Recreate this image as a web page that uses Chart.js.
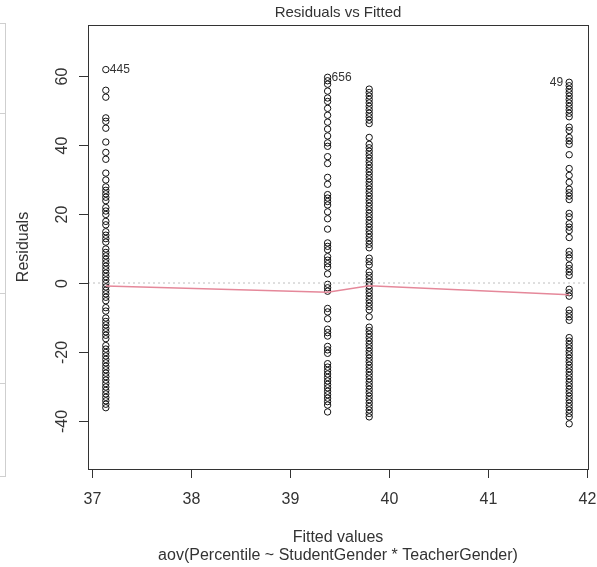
<!DOCTYPE html>
<html>
<head>
<meta charset="utf-8">
<script src="https://cdn.jsdelivr.net/npm/chart.js@4/dist/chart.umd.min.js"></script>
<style>
  body { margin: 0; background: #fff; }
  canvas { display: block; }
</style>
</head>
<body>
<canvas id="chart" width="597" height="567"></canvas>
<script>
// fitted value of each group (x position of each column of residuals)
const fitted = [37.14, 39.38, 39.80, 41.82];

// residuals, one list per group
const resid1 = [61.86, 55.86, 53.86, 47.86, 46.86, 44.86, 40.86, 37.86, 35.86, 31.86, 29.86, 27.86, 26.86,
  25.86, 24.86, 23.86, 21.86, 20.86, 19.86, 17.86, 16.86, 14.86, 13.86, 12.86, 11.86, 9.86, 8.86, 7.86,
  6.86, 5.86, 4.86, 3.86, 2.86, 1.86, 0.86, -0.14, -1.14, -2.14, -3.14, -4.14, -5.14, -7.14, -8.14,
  -10.14, -11.14, -12.14, -13.14, -14.14, -15.14, -16.14, -18.14, -19.14, -20.14, -21.14, -22.14,
  -23.14, -24.14, -25.14, -26.14, -27.14, -28.14, -29.14, -30.14, -31.14, -32.14, -33.14, -34.14,
  -35.14, -36.14];
const resid2 = [59.62, 58.62, 57.62, 55.62, 53.62, 52.62, 50.62, 48.62, 46.62, 44.62, 42.62, 40.62,
  39.62, 36.62, 34.62, 30.62, 28.62, 25.62, 24.62, 23.62, 22.62, 20.62, 18.62, 15.62, 11.62, 10.62,
  9.62, 7.62, 6.62, 5.62, 4.62, 2.62, -0.38, -1.38, -2.38, -7.38, -8.38, -10.38, -13.38, -14.38,
  -15.38, -18.38, -19.38, -20.38, -23.38, -24.38, -25.38, -26.38, -27.38, -28.38, -29.38, -30.38,
  -31.38, -32.38, -33.38, -34.38, -35.38, -37.38];
const resid3 = [56.2, 55.2, 54.2, 53.2, 52.2, 51.2, 50.2, 49.2, 48.2, 47.2, 46.2, 42.2, 40.2, 39.2,
  38.2, 37.2, 36.2, 35.2, 34.2, 33.2, 32.2, 31.2, 30.2, 29.2, 28.2, 27.2, 26.2, 25.2, 24.2, 23.2, 22.2,
  21.2, 20.2, 19.2, 18.2, 17.2, 16.2, 15.2, 14.2, 13.2, 12.2, 11.2, 10.2, 7.2, 6.2, 5.2, 3.2, 2.2, 1.2,
  0.2, -0.8, -1.8, -2.8, -3.8, -4.8, -5.8, -6.8, -7.8, -9.8, -12.8, -13.8, -14.8, -15.8, -16.8, -17.8,
  -18.8, -19.8, -20.8, -21.8, -22.8, -23.8, -24.8, -25.8, -26.8, -27.8, -28.8, -29.8, -30.8, -31.8,
  -32.8, -33.8, -34.8, -35.8, -36.8, -37.8, -38.8];
const resid4 = [58.18, 57.18, 56.18, 55.18, 54.18, 53.18, 52.18, 51.18, 50.18, 49.18, 48.18, 45.18,
  44.18, 42.18, 41.18, 40.18, 37.18, 33.18, 31.18, 29.18, 27.18, 26.18, 25.18, 24.18, 20.18, 19.18,
  17.18, 16.18, 15.18, 13.18, 9.18, 8.18, 7.18, 5.18, 4.18, 3.18, 2.18, -1.82, -2.82, -3.82, -7.82,
  -8.82, -9.82, -10.82, -15.82, -16.82, -17.82, -18.82, -19.82, -20.82, -21.82, -22.82, -23.82,
  -24.82, -25.82, -26.82, -27.82, -28.82, -29.82, -30.82, -31.82, -32.82, -33.82, -34.82, -35.82,
  -36.82, -37.82, -38.82, -40.82];
const residuals = [resid1, resid2, resid3, resid4];

// smoother (red line) value at each fitted value
const smoothY = [-0.9, -2.7, -0.8, -3.4];

// labelled points: observation id and which group's top point
const idText = ['445', '656', '49'];
const idGroup = [0, 1, 3];

const xTicks = [37, 38, 39, 40, 41, 42];
const yTicks = [-40, -20, 0, 20, 40, 60];

const X_MIN = 36.96, X_MAX = 42.01;
const Y_MIN = -53.91, Y_MAX = 74.78;
const FONT = '"Liberation Sans", Arial, sans-serif';

const datasets = [];
datasets.push({
  label: 'smooth',
  type: 'line',
  data: fitted.map((f, i) => ({ x: f, y: smoothY[i] })),
  borderColor: '#E5889A',
  borderWidth: 1.5,
  pointRadius: 0,
  showLine: true,
  fill: false,
  tension: 0
});
datasets.push({
  label: 'zero',
  type: 'line',
  data: [{ x: X_MIN, y: 0 }, { x: X_MAX, y: 0 }],
  borderColor: '#BEBEBE',
  borderWidth: 1,
  borderDash: [2, 3],
  pointRadius: 0,
  showLine: true,
  fill: false
});
residuals.forEach((list, g) => {
  datasets.push({
    label: 'group' + g,
    data: list.map(r => ({ x: fitted[g], y: r })),
    pointRadius: 3.2,
    pointBorderWidth: 1,
    borderColor: '#111',
    backgroundColor: 'rgba(0,0,0,0)',
    pointStyle: 'circle',
    showLine: false
  });
});

const rDecor = {
  id: 'rDecor',
  afterDraw(chart) {
    const ctx = chart.ctx;
    const a = chart.chartArea;
    const xs = chart.scales.x, ys = chart.scales.y;
    ctx.save();

    // faint frame of the neighbouring panel on the left
    ctx.strokeStyle = '#cfcfcf';
    ctx.lineWidth = 1;
    ctx.beginPath();
    ctx.moveTo(5.5, 23); ctx.lineTo(5.5, 477);
    [23.5, 113.5, 293.5, 383.5, 476.5].forEach(y => { ctx.moveTo(0, y); ctx.lineTo(5.5, y); });
    ctx.stroke();

    // plot box
    ctx.strokeStyle = '#333';
    ctx.lineWidth = 1;
    ctx.strokeRect(Math.round(a.left) + 0.5, Math.round(a.top) + 0.5,
      Math.round(a.right - a.left), Math.round(a.bottom - a.top));

    ctx.fillStyle = '#333';
    ctx.font = '16px ' + FONT;

    // x axis ticks and labels
    ctx.textAlign = 'center';
    ctx.textBaseline = 'alphabetic';
    ctx.beginPath();
    xTicks.forEach(v => {
      const px = Math.round(xs.getPixelForValue(v)) + 0.5;
      ctx.moveTo(px, a.bottom); ctx.lineTo(px, a.bottom + 9);
      ctx.fillText(String(v), px, 504);
    });
    ctx.stroke();

    // y axis ticks and rotated labels
    ctx.beginPath();
    yTicks.forEach(v => {
      const py = Math.round(ys.getPixelForValue(v)) + 0.5;
      ctx.moveTo(a.left - 9, py); ctx.lineTo(a.left, py);
      ctx.save();
      ctx.translate(66.5, py);
      ctx.rotate(-Math.PI / 2);
      ctx.fillText(String(v), 0, 0);
      ctx.restore();
    });
    ctx.stroke();

    // axis titles
    ctx.fillText('Fitted values', (a.left + a.right) / 2, 542);
    ctx.fillText('aov(Percentile ~ StudentGender * TeacherGender)', (a.left + a.right) / 2, 560);
    ctx.save();
    ctx.translate(28, (a.top + a.bottom) / 2);
    ctx.rotate(-Math.PI / 2);
    ctx.fillText('Residuals', 0, 0);
    ctx.restore();

    // title
    ctx.font = '15px ' + FONT;
    ctx.fillText('Residuals vs Fitted', (a.left + a.right) / 2, 17);

    // id labels next to the extreme points
    ctx.font = '12px ' + FONT;
    ctx.textBaseline = 'middle';
    idText.forEach((t, i) => {
      const g = idGroup[i];
      const px = xs.getPixelForValue(fitted[g]);
      const py = ys.getPixelForValue(Math.max(...residuals[g]));
      if (g === 3) {
        ctx.textAlign = 'right';
        ctx.fillText(t, px - 6, py);
      } else {
        ctx.textAlign = 'left';
        ctx.fillText(t, px + 4, py);
      }
    });
    ctx.restore();
  }
};

new Chart(document.getElementById('chart'), {
  type: 'scatter',
  data: { datasets: datasets },
  options: {
    responsive: false,
    animation: false,
    events: [],
    layout: { autoPadding: false, padding: { left: 88, top: 25, right: 9, bottom: 98 } },
    plugins: { legend: { display: false }, tooltip: { enabled: false }, title: { display: false } },
    scales: {
      x: { type: 'linear', display: false, min: X_MIN, max: X_MAX },
      y: { type: 'linear', display: false, min: Y_MIN, max: Y_MAX }
    }
  },
  plugins: [rDecor]
});
</script>
</body>
</html>
